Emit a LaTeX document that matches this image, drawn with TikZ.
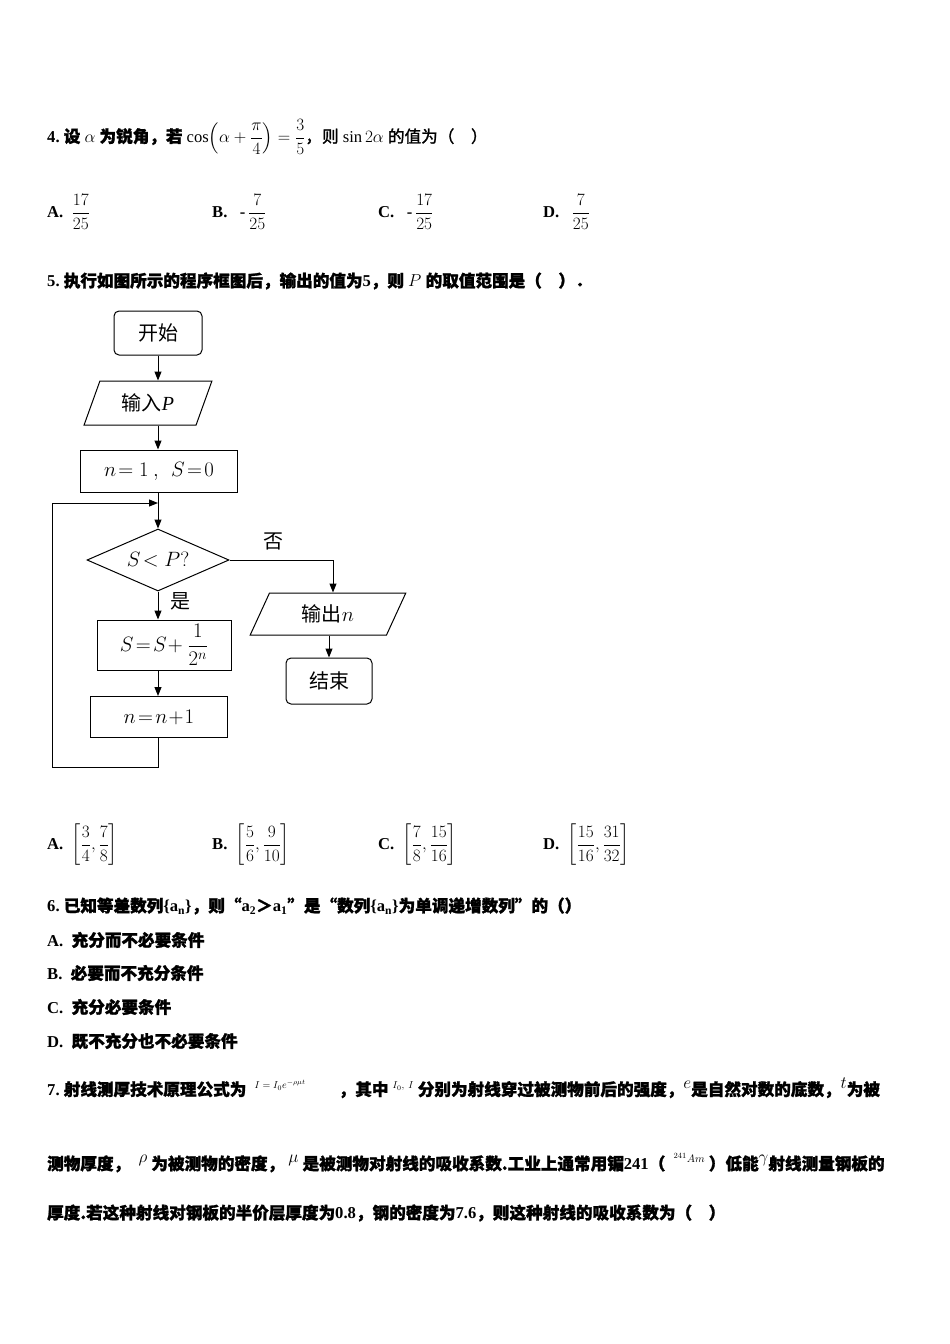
\documentclass[tikz,border=0pt]{standalone}
\usepackage{amsmath}
\usepackage{fontspec}
\setmainfont{Liberation Serif}
\newfontfamily\cjk{Noto Sans CJK SC}[FakeBold=1.5]
\newfontfamily\cjkr{Noto Sans CJK SC}
\usetikzlibrary{shapes.geometric,arrows.meta}
\newcommand\Z[1]{{\cjk #1}}
\begin{document}
\begin{tikzpicture}[x=1pt,y=-1pt,
  txt/.style={anchor=west,inner sep=0pt,font=\fontsize{16.6}{19}\selectfont\bfseries},
  box/.style={draw,line width=1pt,font=\fontsize{20}{22}\selectfont\cjkr,inner sep=0pt},
  rbox/.style={box,rounded corners=5pt},
  para/.style={box,trapezium,trapezium left angle=65,trapezium right angle=115,trapezium stretches=true},
  arr/.style={-{Triangle[length=9pt,width=7pt]},line width=1pt},
  ln/.style={line width=1pt}]
\useasboundingbox (0,0) rectangle (950,1344);
% Q4
\node[txt] (q4) at (47,137) {4.\ \Z{设} $\alpha$ \Z{为锐角，若} \mdseries$\cos\!\left(\alpha+\dfrac{\pi}{4}\right)=\dfrac35$\Z{，则} $\sin2\alpha$ \Z{的值为（\quad ）}};
\node[txt] (a4) at (47,212) {A.\ \ \mdseries$\dfrac{17}{25}$};
\node[txt] (b4) at (212,212) {B.\ \ \ -\,\mdseries$\dfrac{7}{25}$};
\node[txt] (c4) at (378,212) {C.\ \ \ -\,\mdseries$\dfrac{17}{25}$};
\node[txt] (d4) at (543,212) {D.\ \ \ \mdseries$\dfrac{7}{25}$};
% Q5
\node[txt] (q5) at (47,281) {5.\ \Z{执行如图所示的程序框图后，输出的值为}5\Z{，则} {\mdseries$P$} \Z{的取值范围是（\quad ）．}};
% flowchart
\node[rbox,minimum width=88pt,minimum height=44pt] (st) at (158,333) {开始};
\node[para,minimum width=128pt,minimum height=44pt] (in) at (148,403) {输入$\mathit{P}$};
\node[box,minimum width=157pt,minimum height=42pt] (init) at (159,471) {$n\!=1\ ,\ \ S\!=\!0$};
\coordinate (j) at (158,503);
\node[box,diamond,aspect=2.3,minimum width=142pt,minimum height=62pt] (dec) at (158,560) {$S\!<P?$};
\node[box,minimum width=134pt,minimum height=50pt] (upd) at (164,645) {$S\!=\!S\!+\dfrac{1}{2^n}$};
\node[box,minimum width=137pt,minimum height=41pt] (inc) at (159,717) {$n\!=\!n\!+\!1$};
\node[para,minimum width=156pt,minimum height=42pt] (out) at (328,614) {输出$n$};
\node[rbox,minimum width=86pt,minimum height=46pt] (en) at (329,681) {结束};
\draw[arr] (st.south) -- (st.south |- in.north);
\draw[arr] (st.south |- in.south) -- (st.south |- init.north);
\draw[arr] (init.south -| j) -- (dec.north);
\draw[arr] (dec.south) -- (upd.north -| dec.south);
\draw[arr] (upd.south -| dec.south) -- (inc.north -| dec.south);
\draw[arr] (dec.east) -| (out.north -| 333,0);
\draw[arr] (out.south -| en.north) -- (en.north);
\draw[arr] (inc.south -| 158,0) -- (158,767) -- (52,767) -- (52,503) -- (j);
\node[font=\fontsize{20}{22}\selectfont\cjkr] (no) at (273,541) {否};
\node[font=\fontsize{20}{22}\selectfont\cjkr] (yes) at (180,601) {是};
% options Q5
\node[txt] (a5) at (47,845) {A.\ \ \mdseries$\left[\dfrac34,\dfrac78\right]$};
\node[txt] (b5) at (212,845) {B.\ \ \mdseries$\left[\dfrac56,\dfrac9{10}\right]$};
\node[txt] (c5) at (378,845) {C.\ \ \mdseries$\left[\dfrac78,\dfrac{15}{16}\right]$};
\node[txt] (d5) at (543,845) {D.\ \ \mdseries$\left[\dfrac{15}{16},\dfrac{31}{32}\right]$};
% Q6
\node[txt] (q6) at (47,906) {6.\ \Z{已知等差数列}\{a\textsubscript{n}\}\Z{，则“}a\textsubscript{2}\Z{＞}a\textsubscript{1}\Z{”是“数列}\{a\textsubscript{n}\}\Z{为单调递增数列”的（）}};
\node[txt] (o1) at (47,940) {A.\ \ \Z{充分而不必要条件}};
\node[txt] (o2) at (47,973) {B.\ \ \Z{必要而不充分条件}};
\node[txt] (o3) at (47,1007) {C.\ \ \Z{充分必要条件}};
\node[txt] (o4) at (47,1041) {D.\ \ \Z{既不充分也不必要条件}};
% Q7
\node[txt] (q7a) at (47,1088) {7.\ \Z{射线测厚技术原理公式为}\ \ \raisebox{7pt}{\mdseries\fontsize{10}{10}\selectfont$I=I_0e^{-\rho\mu t}$}\qquad\Z{，其中} \raisebox{7pt}{\mdseries\fontsize{10}{10}\selectfont$I_0,\ I$}\ \Z{分别为射线穿过被测物前后的强度，}\raisebox{7pt}{\mdseries$e$}\Z{是自然对数的底数，}\raisebox{7pt}{\mdseries$t$}\Z{为被}};
\node[txt] (q7b) at (47,1163) {\Z{测物厚度，}\ \ \raisebox{7pt}{\mdseries$\rho$}\ \Z{为被测物的密度，}\ \raisebox{7pt}{\mdseries$\mu$}\ \Z{是被测物对射线的吸收系数.工业上通常用镅}241\Z{（}\ \ \raisebox{7pt}{\mdseries\fontsize{11}{11}\selectfont${}^{241}Am$}\ \Z{）低能}\raisebox{7pt}{\mdseries$\gamma$}\Z{射线测量钢板的}};
\node[txt] (q7c) at (47,1213) {\Z{厚度.若这种射线对钢板的半价层厚度为}0.8\Z{，钢的密度为}7.6\Z{，则这种射线的吸收系数为（\quad ）}};
\end{tikzpicture}
\end{document}
